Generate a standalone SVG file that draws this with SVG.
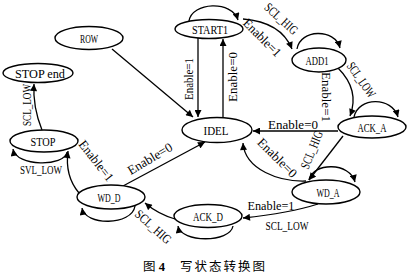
<svg xmlns="http://www.w3.org/2000/svg" width="409" height="276" viewBox="0 0 409 276">
<style>
.n{fill:#fff;stroke:#000;stroke-width:1.4}
.t{font-family:"Liberation Serif",serif;font-size:13.5px;fill:#000;text-anchor:middle}
.l{font-family:"Liberation Serif",serif;font-size:13px;fill:#000;text-anchor:middle}
.c path{fill:none;stroke:#000;stroke-width:1.3;marker-end:url(#a)}
.cap{font-family:"Liberation Serif","Noto Sans CJK SC",serif;font-size:12.5px;fill:#000}
</style>
<defs>
<marker id="a" viewBox="0 0 10 10" refX="10" refY="5" markerWidth="8" markerHeight="7" markerUnits="userSpaceOnUse" orient="auto">
<path d="M0,0 L10,5 L0,10 Z" fill="#000"/>
</marker>
</defs>
<rect width="409" height="276" fill="#fff"/>
<g class="c" id="connectors">
<path d="M112,49 L193,117"/>
<path d="M198,38 L198,117"/>
<path d="M223,118 L223,39"/>
<path d="M189,21 C192,2 232,0 238,20"/>
<path d="M243,19 Q281,22 292,49"/>
<path d="M297,49 C300,29 335,28 340,48"/>
<path d="M338,68 Q360,90 350,116"/>
<path d="M354,117 C358,97 392,96 398,117"/>
<path d="M338,131 L253,131"/>
<path d="M343,136 L309,180"/>
<path d="M306,181 C280,182 245,170 243,143"/>
<path d="M309,180 C313,162 350,162 355,182"/>
<path d="M318,204 Q290,213 243,218"/>
<path d="M233,226 C230,243 181,243 178,226"/>
<path d="M175,219 Q158,214 145,203"/>
<path d="M135,206 C132,226 85,226 82,208"/>
<path d="M79,193 C68,180 66,166 68,151"/>
<path d="M123,186 L205,142"/>
<path d="M67,152 C65,167 16,167 13,149"/>
<path d="M42,130 C36,115 33,100 34,84"/>
</g>
<g id="ROW"><ellipse class="n" cx="89" cy="38" rx="34" ry="11.5"/><text class="t" x="89" y="42.5" textLength="18" lengthAdjust="spacingAndGlyphs">ROW</text></g>
<g id="START1"><ellipse class="n" cx="209" cy="29" rx="34" ry="9.5"/><text class="t" x="210" y="33.5" textLength="36" lengthAdjust="spacingAndGlyphs">START1</text></g>
<g id="ADD1"><ellipse class="n" cx="319" cy="60" rx="27" ry="12"/><text class="t" x="317" y="64.5" textLength="23" lengthAdjust="spacingAndGlyphs">ADD1</text></g>
<g id="ACK_A"><ellipse class="n" cx="372" cy="127" rx="34" ry="11"/><text class="t" x="372" y="131.5" textLength="29" lengthAdjust="spacingAndGlyphs">ACK_A</text></g>
<g id="IDEL"><ellipse class="n" cx="217" cy="130" rx="35" ry="12.5"/><text class="t" x="216" y="134.5" textLength="25" lengthAdjust="spacingAndGlyphs">IDEL</text></g>
<g id="WD_A"><ellipse class="n" cx="326" cy="192" rx="34" ry="12"/><text class="t" x="328" y="196.5" textLength="23" lengthAdjust="spacingAndGlyphs">WD_A</text></g>
<g id="ACK_D"><ellipse class="n" cx="208" cy="216" rx="34" ry="11.5"/><text class="t" x="208" y="220.5" textLength="30" lengthAdjust="spacingAndGlyphs">ACK_D</text></g>
<g id="WD_D"><ellipse class="n" cx="111" cy="197" rx="34" ry="12"/><text class="t" x="109" y="201.5" textLength="23" lengthAdjust="spacingAndGlyphs">WD_D</text></g>
<g id="STOP"><ellipse class="n" cx="44" cy="141" rx="34" ry="11"/><text class="t" x="43" y="145.5" textLength="25" lengthAdjust="spacingAndGlyphs">STOP</text></g>
<g id="STOP_end"><ellipse class="n" cx="38" cy="73" rx="35" ry="9.5"/><text class="t" x="40" y="77.5" textLength="50" lengthAdjust="spacingAndGlyphs">STOP end</text></g>
<g id="labels">
<text class="l" transform="translate(189,79) rotate(-90)" dy="4" textLength="42" lengthAdjust="spacingAndGlyphs">Enable=1</text>
<text class="l" transform="translate(233,77) rotate(-90)" dy="4" textLength="50" lengthAdjust="spacingAndGlyphs">Enable=0</text>
<text class="l" transform="translate(281,19) rotate(42)" dy="4" textLength="40" lengthAdjust="spacingAndGlyphs">SCL_HIG</text>
<text class="l" transform="translate(262,38) rotate(45)" dy="4" textLength="48" lengthAdjust="spacingAndGlyphs">Enable=1</text>
<text class="l" transform="translate(361,80) rotate(55)" dy="4" textLength="40" lengthAdjust="spacingAndGlyphs">SCL_LOW</text>
<text class="l" transform="translate(326,97) rotate(90)" dy="4" textLength="50" lengthAdjust="spacingAndGlyphs">Enable=1</text>
<text class="l" x="293" y="129" textLength="50" lengthAdjust="spacingAndGlyphs">Enable=0</text>
<text class="l" transform="translate(312,150) rotate(-68)" dy="4" textLength="40" lengthAdjust="spacingAndGlyphs">SCL_HIG</text>
<text class="l" transform="translate(277,158) rotate(45)" dy="4" textLength="50" lengthAdjust="spacingAndGlyphs">Enable=0</text>
<text class="l" x="271" y="210" textLength="47" lengthAdjust="spacingAndGlyphs">Enable=1</text>
<text class="l" x="287" y="230" textLength="43" lengthAdjust="spacingAndGlyphs">SCL_LOW</text>
<text class="l" transform="translate(153,227) rotate(42)" dy="4" textLength="44" lengthAdjust="spacingAndGlyphs">SCL_HIG</text>
<text class="l" transform="translate(150,159) rotate(-31)" dy="4" textLength="50" lengthAdjust="spacingAndGlyphs">Enable=0</text>
<text class="l" transform="translate(96,161) rotate(52)" dy="4" textLength="48" lengthAdjust="spacingAndGlyphs">Enable=1</text>
<text class="l" x="41" y="174" textLength="42" lengthAdjust="spacingAndGlyphs">SVL_LOW</text>
<text class="l" transform="translate(27,105) rotate(-90)" dy="4" textLength="42" lengthAdjust="spacingAndGlyphs">SCL_LOW</text>
</g>
<text class="cap" x="143" y="271">图 <tspan font-weight="bold">4</tspan></text>
<text class="cap" x="180" y="271" textLength="85" lengthAdjust="spacing">写状态转换图</text>
</svg>
